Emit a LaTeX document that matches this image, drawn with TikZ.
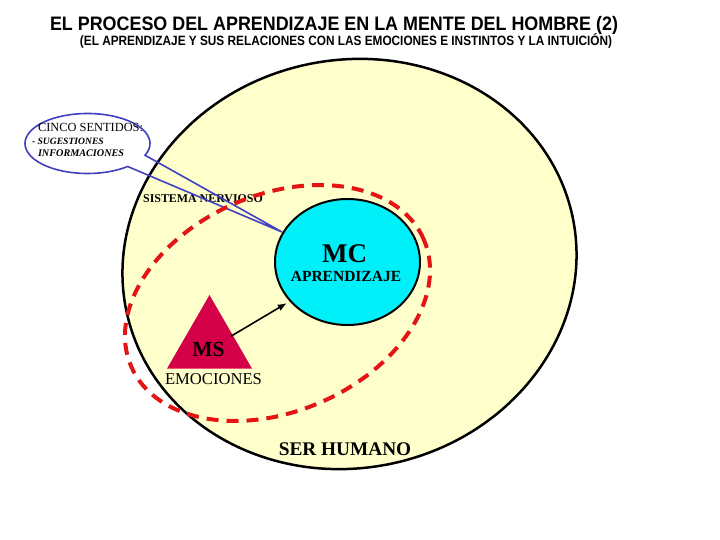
\documentclass[tikz,border=0pt]{standalone}
\usepackage{fontspec}
\usepackage{graphicx}
\setmainfont{Liberation Serif}
\newfontfamily\arialfont{Liberation Sans}
\usetikzlibrary{shapes.geometric,arrows.meta,calc}
\definecolor{bgyellow}{RGB}{255,255,204}
\definecolor{mccyan}{RGB}{0,240,250}
\definecolor{dashred}{RGB}{228,20,20}
\definecolor{mscrimson}{RGB}{212,0,72}
\definecolor{callblue}{RGB}{64,64,192}
\tikzset{
  humanbox/.style={ellipse, draw=black, line width=2.5pt, fill=bgyellow, inner sep=0pt},
  nervbox/.style={ellipse, draw=dashred, line width=4pt, dash pattern=on 12pt off 8pt, inner sep=0pt},
  mcbox/.style={ellipse, draw=black, line width=2pt, fill=mccyan, inner sep=0pt},
  msbox/.style={regular polygon, regular polygon sides=3, fill=mscrimson, inner sep=0pt},
  callout/.style={draw=callblue, line width=1.6pt, line join=miter},
  txt/.style={inner sep=0pt, outer sep=0pt},
  arrowline/.style={draw=black, line width=1.6pt, -{Latex[length=9pt,width=7pt]}},
}
\begin{document}
\begin{tikzpicture}[x=1pt,y=-1pt]
\useasboundingbox (0,0) rectangle (720,540);
\fill[white] (0,0) rectangle (720,540);

% titles
\node[txt, anchor=base] (title) at (334,31)
  {\resizebox{568pt}{\height}{\arialfont\bfseries\fontsize{19.5}{20}\selectfont EL PROCESO DEL APRENDIZAJE EN LA MENTE DEL HOMBRE (2)}};
\node[txt, anchor=base] (subtitle) at (346,46)
  {\resizebox{532pt}{\height}{\arialfont\bfseries\fontsize{13.5}{14}\selectfont (EL APRENDIZAJE Y SUS RELACIONES CON LAS EMOCIONES E INSTINTOS Y LA INTUICIÓN)}};

% ser humano
\node[humanbox, minimum width=456pt, minimum height=408pt, rotate=12] (ser) at (349.5,264) {};

% sistema nervioso label
\node[txt, anchor=base] (sntxt) at (203,203) {\fontsize{11.9}{12}\selectfont\bfseries SISTEMA NERVIOSO};

% callout (cinco sentidos)
\coordinate (cc) at (87.5,143.5);
\coordinate (tip) at (282,232);
\path (cc) ++(-23:62.5pt and 30pt) coordinate (ca);
\draw[callout] (tip) -- (ca) arc[start angle=-23, end angle=310, x radius=62.5pt, y radius=30pt] -- cycle;
\node[txt, anchor=base west] (cinco) at (38,132) {\fontsize{12.4}{13}\selectfont CINCO SENTIDOS:};
\node[txt, anchor=base west] (sug) at (32,144.3) {\fontsize{9.6}{10}\selectfont\bfseries\itshape - SUGESTIONES};
\node[txt, anchor=base west] (inf) at (38,157) {\fontsize{10.2}{11}\selectfont\bfseries\itshape INFORMACIONES};

% sistema nervioso dashed ellipse
\node[nervbox, minimum width=319pt, minimum height=216.6pt, rotate=23.5] (sn) at (277.5,303) {};

% MC
\node[mcbox, minimum width=145pt, minimum height=126pt] (mc) at (347.5,262) {};
\node[txt, anchor=base] (mctxt) at (344.5,262.7) {\fontsize{27}{28}\selectfont\bfseries MC};
\node[txt, anchor=base] (aprtxt) at (346,281) {\fontsize{15.5}{16}\selectfont\bfseries APRENDIZAJE};

% MS
\node[msbox, minimum size=98pt] (ms) at (209.5,344) {};
\node[txt, anchor=base] (mstxt) at (208.5,356) {\fontsize{21.5}{22}\selectfont\bfseries MS};
\node[txt, anchor=base] (emotxt) at (213.5,384) {\fontsize{16.6}{17}\selectfont EMOCIONES};

% arrow MS -> MC
\draw[arrowline, transform canvas={yshift=-5pt}] (ms) -- (mc);

% ser humano label
\node[txt, anchor=base] (sertxt) at (345,455) {\fontsize{19.3}{20}\selectfont\bfseries SER HUMANO};
\end{tikzpicture}
\end{document}
